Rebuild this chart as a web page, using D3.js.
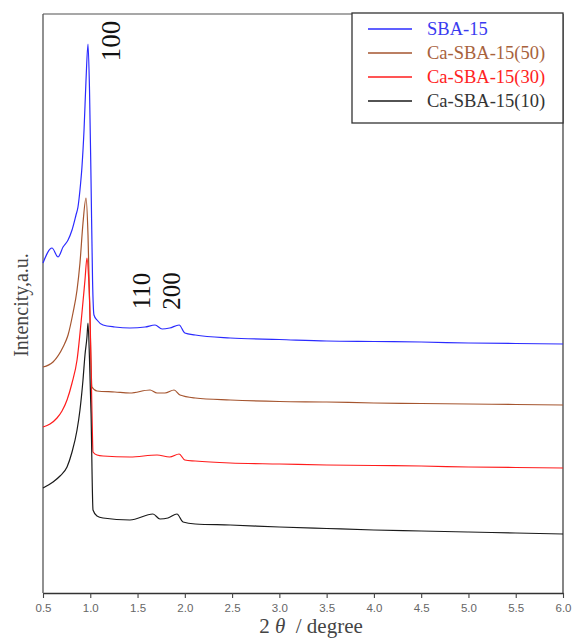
<!DOCTYPE html>
<html>
<head>
<meta charset="utf-8">
<script src="https://cdn.jsdelivr.net/npm/d3@7"></script>
<style>
  body { margin: 0; background: #fff; }
</style>
</head>
<body>
<div id="chart"></div>
<script>
// --- Data (2theta in degree, intensity in a.u., offset stacked) ---
const seriesNames = ["SBA-15", "Ca-SBA-15(50)", "Ca-SBA-15(30)", "Ca-SBA-15(10)"];
const seriesColors = ["#2b2bff", "#a5552f", "#ff1c1c", "#1a1a1a"];
const legendColors = ["#3a3af0", "#a8623c", "#ff2222", "#333333"];

const sba15 = [
  [0.5, 330], [0.595, 345], [0.659, 336], [0.712, 346], [0.765, 353], [0.807, 363],
  [0.849, 378], [0.87, 386], [0.891, 403], [0.912, 426], [0.934, 463], [0.955, 513],
  [0.976, 549], [0.992, 503], [1.008, 413], [1.024, 313], [1.039, 278], [1.071, 273],
  [1.135, 268], [1.26, 266], [1.42, 265], [1.58, 266], [1.685, 268], [1.76, 264],
  [1.84, 265], [1.94, 268], [2.0, 260], [2.11, 258], [2.48, 255], [3.0, 253.5],
  [3.5, 252], [4.0, 251.5], [4.5, 251], [5.0, 250], [5.5, 249.5], [6.0, 249]
];
const caSba50 = [
  [0.5, 226], [0.606, 231], [0.712, 246], [0.765, 258], [0.817, 280], [0.86, 303],
  [0.891, 330], [0.923, 370], [0.955, 395], [0.976, 358], [0.997, 273], [1.018, 206],
  [1.071, 202], [1.26, 201], [1.42, 200], [1.632, 203], [1.706, 200], [1.79, 200],
  [1.886, 203], [1.949, 198], [2.11, 195], [2.48, 193], [3.0, 191.5], [3.5, 191],
  [4.0, 190], [4.5, 189.5], [5.0, 189], [5.5, 188.5], [6.0, 188]
];
const caSba30 = [
  [0.5, 166], [0.574, 169], [0.648, 175], [0.701, 182], [0.754, 193], [0.807, 210],
  [0.86, 233], [0.912, 280], [0.944, 313], [0.965, 335], [0.981, 318], [0.997, 280],
  [1.018, 180], [1.029, 141], [1.071, 138], [1.135, 137], [1.42, 136], [1.706, 138],
  [1.84, 136], [1.94, 139], [2.0, 133], [2.11, 132], [2.48, 130], [3.0, 129],
  [3.5, 128], [4.0, 127.5], [4.5, 127], [5.0, 126], [5.5, 125.5], [6.0, 125]
];
const caSba10 = [
  [0.5, 105], [0.606, 111], [0.68, 117], [0.754, 126], [0.807, 141], [0.86, 163],
  [0.891, 183], [0.923, 213], [0.944, 238], [0.965, 256], [0.976, 270], [0.992, 233],
  [1.008, 180], [1.029, 83], [1.071, 77], [1.135, 75], [1.42, 73], [1.663, 79],
  [1.737, 74], [1.822, 75], [1.917, 79], [1.981, 71], [2.11, 69], [2.48, 68],
  [3.0, 66], [3.5, 64.5], [4.0, 63], [4.5, 62], [5.0, 61], [5.5, 60], [6.0, 59]
];
const allSeries = [sba15, caSba50, caSba30, caSba10];

const xTicks = [0.5, 1.0, 1.5, 2.0, 2.5, 3.0, 3.5, 4.0, 4.5, 5.0, 5.5, 6.0];
const peakLabels = ["100", "110", "200"];
const peakPos = [[1.22, 552], [1.54, 302], [1.86, 302]];

// --- Dimensions ---
const width = 576;
const height = 641;
const plot = { left: 43, right: 563, top: 14, bottom: 593 };

const svg = d3.select("#chart").append("svg")
  .attr("width", width)
  .attr("height", height);

const x = d3.scaleLinear().domain([0.5, 6.0]).range([plot.left, plot.right]);
const y = d3.scaleLinear().domain([0, 579]).range([plot.bottom, plot.top]);

// --- Frame ---
svg.append("line")
  .attr("x1", plot.left).attr("x2", plot.right)
  .attr("y1", plot.top).attr("y2", plot.top)
  .attr("stroke", "#8a8a8a").attr("stroke-width", 1.3);
svg.append("line")
  .attr("x1", plot.left).attr("x2", plot.left)
  .attr("y1", plot.top).attr("y2", plot.bottom)
  .attr("stroke", "#555").attr("stroke-width", 1.3);
svg.append("line")
  .attr("x1", plot.right).attr("x2", plot.right)
  .attr("y1", plot.top).attr("y2", plot.bottom)
  .attr("stroke", "#444").attr("stroke-width", 1.3);

// --- X axis ---
const xAxis = svg.append("g")
  .attr("transform", `translate(0,${plot.bottom})`)
  .call(d3.axisBottom(x).tickValues(xTicks).tickFormat(d3.format(".1f")).tickSizeInner(5).tickSizeOuter(0));
xAxis.select(".domain").attr("stroke", "#333").attr("stroke-width", 1.3);
xAxis.selectAll(".tick line").attr("stroke", "#444").attr("stroke-width", 1.1);
xAxis.selectAll(".tick text")
  .attr("fill", "#666")
  .attr("dy", "0.95em")
  .style("font-family", "Liberation Sans, Arial, sans-serif")
  .style("font-size", "11.5px");

const title = svg.append("text")
  .attr("x", 311).attr("y", 633)
  .attr("text-anchor", "middle")
  .attr("fill", "#444")
  .style("font-family", "Liberation Serif, Times New Roman, serif")
  .style("font-size", "21px");
title.append("tspan").text("2 ");
title.append("tspan").style("font-style", "italic").text("θ");
title.append("tspan").attr("xml:space", "preserve").text("  / degree");

// --- Y label ---
svg.append("text")
  .attr("transform", "translate(21,305) rotate(-90)")
  .attr("text-anchor", "middle")
  .attr("dominant-baseline", "central")
  .attr("fill", "#444")
  .style("font-family", "Liberation Serif, Times New Roman, serif")
  .style("font-size", "20px")
  .text("Intencity,a.u.");

// --- Curves ---
const line = d3.line().x(d => x(d[0])).y(d => y(d[1])).curve(d3.curveMonotoneX);
svg.selectAll("path.curve")
  .data(allSeries)
  .join("path")
  .attr("class", "curve")
  .attr("d", line)
  .attr("fill", "none")
  .attr("stroke", (d, i) => seriesColors[i])
  .attr("stroke-width", 1.2)
  .attr("stroke-linejoin", "round");

// --- Peak labels ---
svg.selectAll("text.peak")
  .data(peakLabels)
  .join("text")
  .attr("class", "peak")
  .attr("transform", (d, i) => `translate(${x(peakPos[i][0])},${y(peakPos[i][1])}) rotate(-90)`)
  .attr("text-anchor", "middle")
  .attr("dominant-baseline", "central")
  .attr("fill", "#111")
  .style("font-family", "Liberation Serif, Times New Roman, serif")
  .style("font-size", (d, i) => (i === 0 ? "27px" : "25px"))
  .text(d => d);

// --- Legend ---
const legend = svg.append("g");
legend.append("rect")
  .attr("x", 352).attr("y", 13)
  .attr("width", 211).attr("height", 110)
  .attr("fill", "#fff")
  .attr("stroke", "#333")
  .attr("stroke-width", 1.3);

const rows = legend.selectAll("g.row")
  .data(seriesNames)
  .join("g")
  .attr("class", "row")
  .attr("transform", (d, i) => `translate(0,${29 + i * 24})`);
rows.append("line")
  .attr("x1", 368).attr("x2", 412)
  .attr("stroke", (d, i) => seriesColors[i])
  .attr("stroke-width", 1.4);
rows.append("text")
  .attr("x", 427)
  .attr("dy", "0.33em")
  .attr("fill", (d, i) => legendColors[i])
  .style("font-family", "Liberation Serif, Times New Roman, serif")
  .style("font-size", "18.5px")
  .text(d => d);
</script>
</body>
</html>
